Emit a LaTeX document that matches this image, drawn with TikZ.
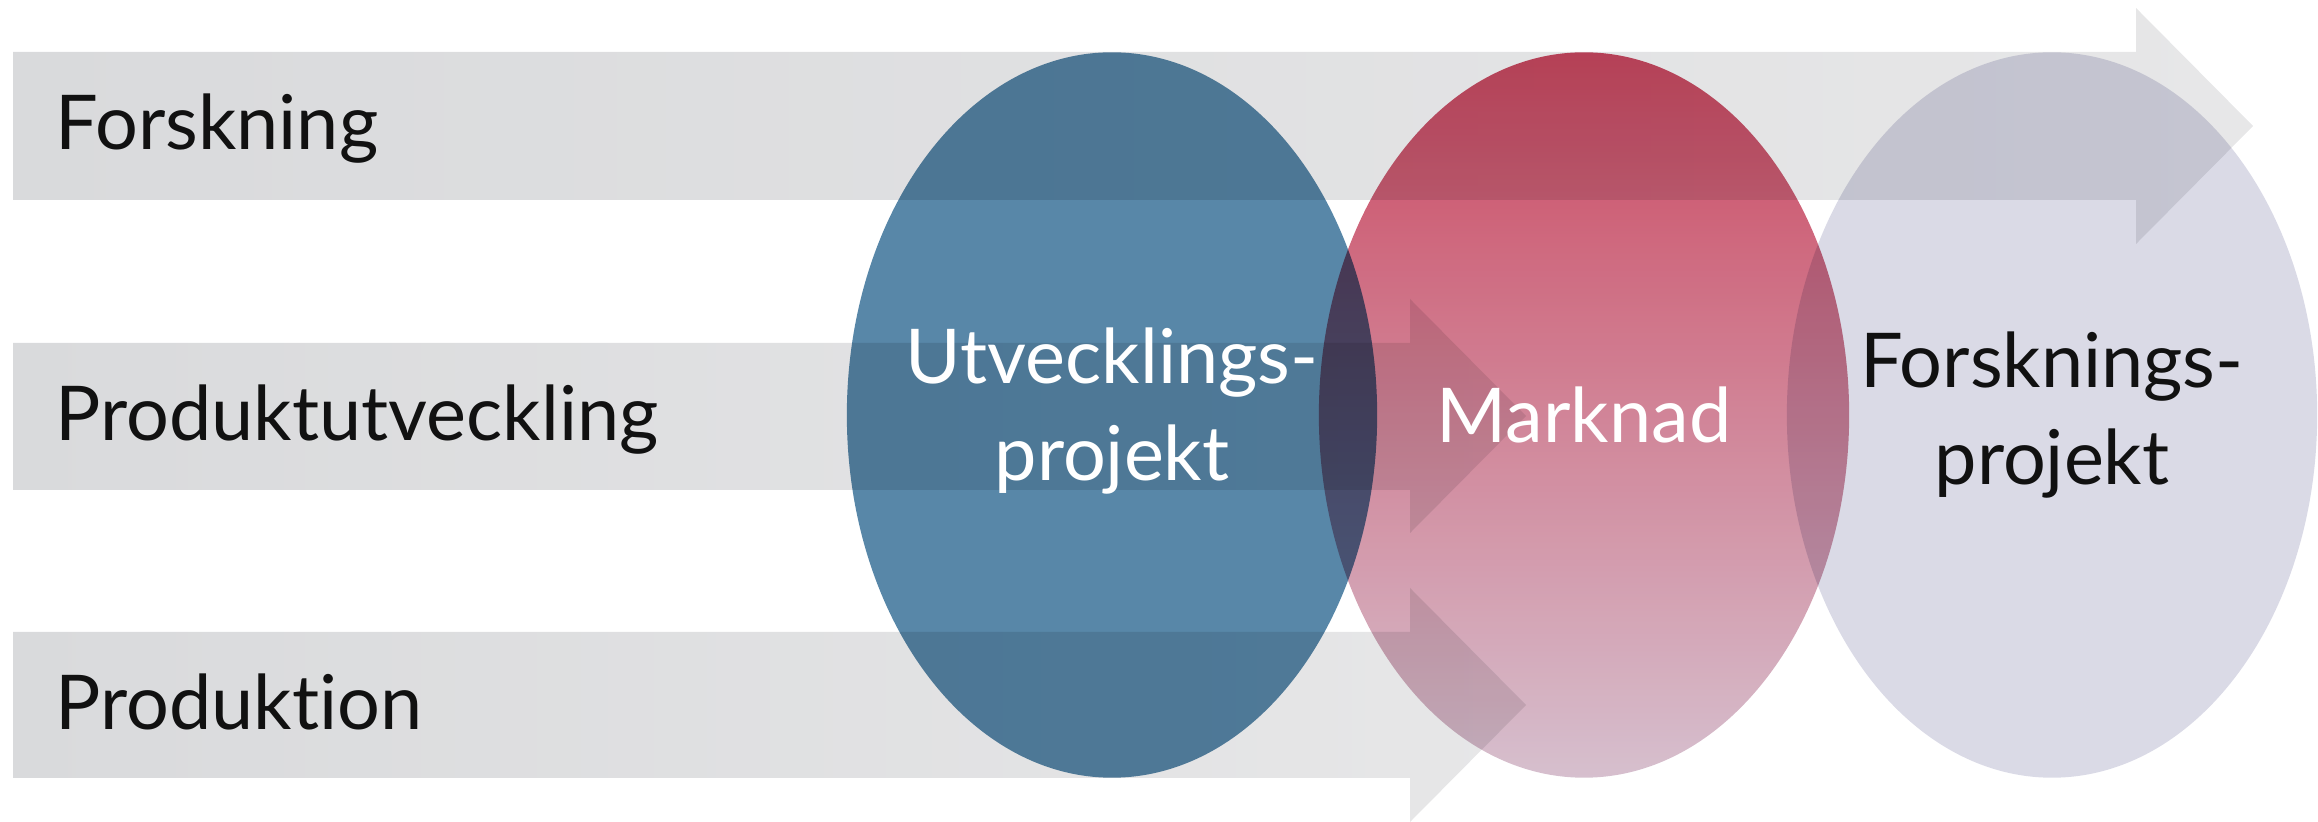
\documentclass[tikz,border=0pt]{standalone}
\usepackage{fontspec}
\setmainfont{Lato}[Ligatures={NoCommon,NoRare}]
\usetikzlibrary{shapes.geometric}

\definecolor{grigiosx}{RGB}{217,218,220}
\definecolor{grigiodx}{RGB}{231,231,232}
\definecolor{blu}{RGB}{88,135,168}
\definecolor{rossoalto}{RGB}{200,58,84}
\definecolor{rossomedio}{RGB}{206,116,130}
\definecolor{rossobasso}{RGB}{210,186,202}
\definecolor{lilla}{RGB}{218,218,230}
\definecolor{nero}{RGB}{17,17,17}

\begin{document}
\begin{tikzpicture}[x=0.01cm,y=-0.01cm,font=\fontsize{21.5}{27.6}\selectfont,
  freccia/.style={left color=grigiosx,right color=grigiodx},
  ellisse/.style={ellipse,inner sep=0pt,minimum width=5.3cm,minimum height=7.25cm},
  etichetta/.style={anchor=base west,inner sep=0pt,text=nero},
  testo/.style={align=center,inner sep=0pt}]

\useasboundingbox (0,0) rectangle (2318,822);

\shade[freccia] (13,52) -- (2136,52) -- (2136,8) -- (2253,126) -- (2136,244) -- (2136,200) -- (13,200) -- cycle;
\shade[freccia] (13,343) -- (1410,343) -- (1410,299) -- (1526,416) -- (1410,533) -- (1410,490) -- (13,490) -- cycle;
\shade[freccia] (13,632) -- (1410,632) -- (1410,588) -- (1526,705) -- (1410,822) -- (1410,778) -- (13,778) -- cycle;

\node[etichetta] (forskning) at (55,150) {Forskning};
\node[etichetta] (produktutveckling) at (55,441) {Produktutveckling};
\node[etichetta] (produktion) at (55,730) {Produktion};

\coordinate (ou) at (1112,415);
\coordinate (om) at (1584,415);
\coordinate (of) at (2052,415);

\begin{scope}[blend mode=multiply]
\node[ellisse,fill=blu] (utveckling) at (ou) {};
\node[ellisse,top color=rossoalto,middle color=rossomedio,bottom color=rossobasso,opacity=.92] (marknad) at (om) {};
\node[ellisse,fill=lilla] (forskningsprojekt) at (of) {};
\end{scope}

\node[testo,text=white] (utvtext) at ([yshift=.04cm]utveckling) {Utvecklings-\\projekt};
\node[testo,text=white] (marktext) at (marknad) {Marknad};
\node[testo,text=nero] (forsktext) at (forskningsprojekt) {Forsknings-\\projekt};

\end{tikzpicture}
\end{document}
